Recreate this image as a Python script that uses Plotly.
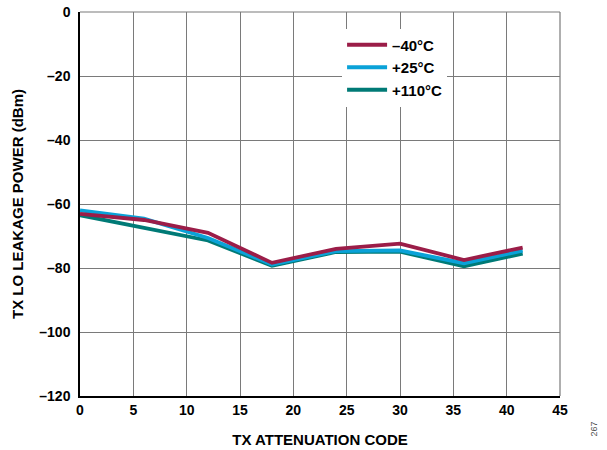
import plotly.graph_objects as go

codes = [0, 6, 12, 18, 24, 30, 36, 41.5]
m40 = [-63.1, -65.0, -69.0, -78.4, -74.0, -72.4, -77.5, -73.6]
p25 = [-62.0, -64.6, -70.6, -78.9, -74.7, -74.5, -78.5, -74.6]
p110 = [-63.5, -67.3, -71.4, -79.3, -75.0, -74.9, -79.5, -75.5]
names = ["\u201340\u00b0C", "+25\u00b0C", "+110\u00b0C"]
colors = ["#9B1D48", "#0AA2D8", "#007A76"]

fig = go.Figure()
for ys, n, c in zip([m40, p25, p110][::-1], names[::-1], colors[::-1]):
    fig.add_trace(go.Scatter(x=codes, y=ys, mode="lines", name=n,
                             line=dict(color=c, width=3.8)))

fnt = dict(family="Arial, Liberation Sans, sans-serif", size=13, color="black")
grid = "#7a7a7a"
fig.update_layout(
    width=607, height=450,
    margin=dict(l=80, r=47, t=12, b=54, autoexpand=False),
    paper_bgcolor="white", plot_bgcolor="white",
    font=fnt,
    showlegend=True,
    legend=dict(x=0.546, y=0.957, xanchor="left", yanchor="top",
                bgcolor="white", borderwidth=0, traceorder="reversed",
                font=dict(family="Arial, Liberation Sans, sans-serif", size=15, color="black", weight="bold"),
                itemwidth=40, tracegroupgap=0),
    xaxis=dict(range=[0, 45], dtick=5, showgrid=True, gridcolor=grid, gridwidth=1.2,
               showline=True, linecolor="black", linewidth=1.5, mirror=False, automargin=False,
               zeroline=False, ticks="", tickfont=dict(size=14, weight="bold"),
               title=dict(text="TX ATTENUATION CODE", font=dict(size=15, weight="bold"), standoff=18)),
    yaxis=dict(range=[-120, 0], dtick=20, showgrid=True, gridcolor=grid, gridwidth=1.2,
               showline=True, linecolor="black", linewidth=1.5, automargin=False,
               zeroline=False, ticks="", tickfont=dict(size=14, weight="bold"),
               ticklabelstandoff=5,
               tickvals=[-120, -100, -80, -60, -40, -20, 0],
               ticktext=["\u2013120", "\u2013100", "\u201380", "\u201360", "\u201340", "\u201320", "0"],
               title=dict(text="TX LO LEAKAGE POWER (dBm)", font=dict(size=15, weight="bold"), standoff=12)),
)
fig.add_shape(type="line", xref="paper", yref="paper", x0=0, x1=1, y0=1, y1=1,
              line=dict(color=grid, width=1.2))
fig.add_shape(type="line", xref="paper", yref="paper", x0=1, x1=1, y0=0, y1=1,
              line=dict(color=grid, width=1.2))
fig.add_annotation(text="267", xref="paper", yref="paper", x=1.085, y=-0.11,
                   showarrow=False, textangle=-90, font=dict(size=9, color="#555"))
fig.write_html("out.html", config={"displayModeBar": False},
               post_script="document.body.style.margin='0';")
